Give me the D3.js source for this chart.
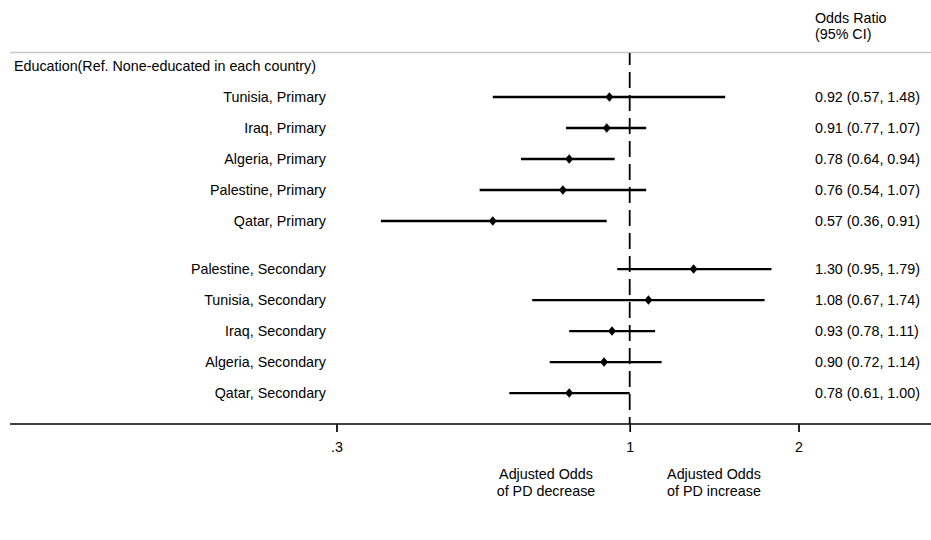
<!DOCTYPE html>
<html>
<head>
<meta charset="utf-8">
<script src="https://cdn.jsdelivr.net/npm/d3@7"></script>
<style>
  html, body { margin: 0; padding: 0; background: #fff; }
  svg text { font-family: "Liberation Sans", Arial, sans-serif; fill: #000; }
</style>
</head>
<body>
<svg id="chart" width="931" height="540"></svg>
<script>
// Education effects on PD, adjusted odds ratios with 95% confidence intervals
const labels = [
  "Tunisia, Primary", "Iraq, Primary", "Algeria, Primary", "Palestine, Primary", "Qatar, Primary",
  "Palestine, Secondary", "Tunisia, Secondary", "Iraq, Secondary", "Algeria, Secondary", "Qatar, Secondary"
];
const group = [0, 0, 0, 0, 0, 1, 1, 1, 1, 1];
const oddsRatio = [0.92, 0.91, 0.78, 0.76, 0.57, 1.30, 1.08, 0.93, 0.90, 0.78];
const ciLow = [0.57, 0.77, 0.64, 0.54, 0.36, 0.95, 0.67, 0.78, 0.72, 0.61];
const ciHigh = [1.48, 1.07, 0.94, 1.07, 0.91, 1.79, 1.74, 1.11, 1.14, 1.00];
const tickValues = [0.3, 1, 2];
const tickLabels = [".3", "1", "2"];

const svg = d3.select("#chart");
const fmt = d3.format(".2f");
const fs = 14.3;

// Log scale for the odds ratios
const x = d3.scaleLog().domain([0.3, 2]).range([336.5, 798.5]);
// Row positions: a small gap separates the two education levels
const groupGap = 0.55;
const rowPos = labels.map((d, i) => i + group[i] * groupGap);
const y = d3.scaleLinear().domain([0, 1]).range([97, 128]);

// Header rule
svg.append("line").attr("x1", 10).attr("x2", 931).attr("y1", 52.5).attr("y2", 52.5)
  .attr("stroke", "#c8c8c8").attr("stroke-width", 1.3);

svg.append("text").attr("x", 815).attr("y", 23).attr("font-size", fs).text("Odds Ratio");
svg.append("text").attr("x", 815).attr("y", 39).attr("font-size", fs).text("(95% CI)");
svg.append("text").attr("x", 14).attr("y", 71).attr("font-size", fs)
  .text("Education(Ref. None-educated in each country)");

// Reference line at OR = 1
svg.append("line").attr("x1", x(1)).attr("x2", x(1)).attr("y1", 53).attr("y2", 424)
  .attr("stroke", "#000").attr("stroke-width", 1.8)
  .attr("stroke-dasharray", "16,7").attr("stroke-dashoffset", 4);

// Axis
const axisG = svg.append("g").attr("transform", "translate(0,424)");
axisG.append("line").attr("x1", 10).attr("x2", 931).attr("y1", 0).attr("y2", 0)
  .attr("stroke", "#000").attr("stroke-width", 1.7);
const axis = d3.axisBottom(x).tickValues(tickValues)
  .tickFormat((d, i) => tickLabels[i]).tickSize(8).tickPadding(10);
axisG.call(axis);
axisG.select(".domain").remove();
axisG.selectAll(".tick line").attr("stroke-width", 1.7);
axisG.selectAll(".tick text").attr("font-size", fs).attr("font-family", "Liberation Sans, Arial, sans-serif");

// Direction annotations
[["Adjusted Odds", "of PD decrease", 546], ["Adjusted Odds", "of PD increase", 714]].forEach(a => {
  const t = svg.append("text").attr("text-anchor", "middle").attr("font-size", fs);
  t.append("tspan").attr("x", a[2]).attr("y", 479).text(a[0]);
  t.append("tspan").attr("x", a[2]).attr("y", 496).text(a[1]);
});

const rows = svg.append("g").selectAll("g").data(labels).join("g")
  .attr("transform", (d, i) => `translate(0,${y(rowPos[i])})`);

rows.append("text").attr("x", 326).attr("y", 5).attr("text-anchor", "end")
  .attr("font-size", fs).text(d => d);

rows.append("line")
  .attr("x1", (d, i) => x(ciLow[i])).attr("x2", (d, i) => x(ciHigh[i]))
  .attr("stroke", "#000").attr("stroke-width", 2.3);

rows.append("path")
  .attr("transform", (d, i) => `translate(${x(oddsRatio[i])},0)`)
  .attr("d", "M0,-4.8L4,0L0,4.8L-4,0Z").attr("fill", "#000");

rows.append("text").attr("x", 815).attr("y", 5).attr("font-size", fs)
  .text((d, i) => `${fmt(oddsRatio[i])} (${fmt(ciLow[i])}, ${fmt(ciHigh[i])})`);
</script>
</body>
</html>
